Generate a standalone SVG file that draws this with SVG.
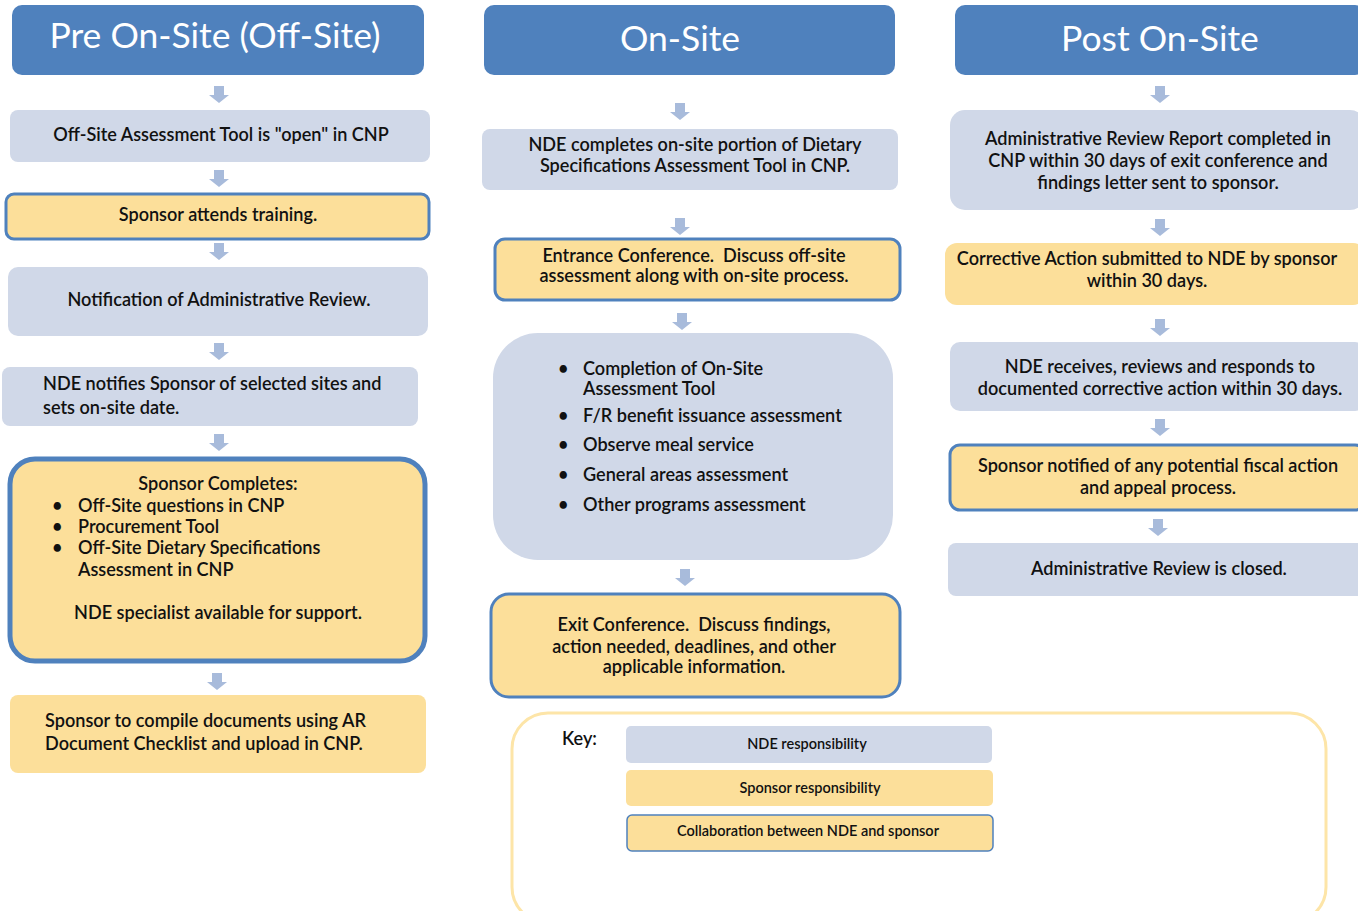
<svg xmlns="http://www.w3.org/2000/svg" width="1358" height="911" viewBox="0 0 1358 911">
<style>
.hdr{fill:#4f81bd}
.nde{fill:#d0d8e8}
.sp{fill:#fcdf9a}
.col{fill:#fcdf9a;stroke:#4f81bd;stroke-width:3}
.ht{font-family:Lato,"Liberation Sans",sans-serif;font-size:35.5px;fill:#fff;text-anchor:middle}
.t{font-family:Lato,"Liberation Sans",sans-serif;font-size:18.1px;font-weight:600;fill:#111;white-space:pre}
.c{text-anchor:middle}
.k{font-family:Lato,"Liberation Sans",sans-serif;font-size:14.5px;font-weight:600;fill:#111;text-anchor:middle}
.ar{fill:#a8bbdb}
</style>
<defs>
<path id="arr" d="M-5,-17 H5 V-8 H10 L0,0 L-10,-8 H-5 Z"/>
</defs>
<rect width="1358" height="911" fill="#fff"/>

<g id="connectors" class="ar">
<use href="#arr" x="219" y="103"/>
<use href="#arr" x="219" y="187"/>
<use href="#arr" x="219" y="260"/>
<use href="#arr" x="219" y="360"/>
<use href="#arr" x="219" y="451"/>
<use href="#arr" x="217" y="690"/>
<use href="#arr" x="680" y="120"/>
<use href="#arr" x="680" y="235"/>
<use href="#arr" x="682" y="330"/>
<use href="#arr" x="685" y="586"/>
<use href="#arr" x="1160" y="103"/>
<use href="#arr" x="1160" y="236"/>
<use href="#arr" x="1160" y="336"/>
<use href="#arr" x="1160" y="436"/>
<use href="#arr" x="1158" y="536"/>
</g>

<g id="h1"><rect class="hdr" x="12" y="5" width="412" height="70" rx="10"/><text class="ht" x="215" y="48">Pre On-Site (Off-Site)</text></g>
<g id="h2"><rect class="hdr" x="484" y="5" width="411" height="70" rx="10"/><text class="ht" x="680" y="51">On-Site</text></g>
<g id="h3"><rect class="hdr" x="955" y="5" width="410" height="70" rx="10"/><text class="ht" x="1160" y="51">Post On-Site</text></g>

<g id="a1"><rect class="nde" x="10" y="110" width="420" height="52" rx="8"/><text class="t c" x="221" y="141">Off-Site Assessment Tool is "open" in CNP</text></g>
<g id="a2"><rect class="col" x="6" y="194" width="423" height="45" rx="8"/><text class="t c" x="218" y="221">Sponsor attends training.</text></g>
<g id="a3"><rect class="nde" x="8" y="267" width="420" height="69" rx="10"/><text class="t c" x="219" y="306">Notification of Administrative Review.</text></g>
<g id="a4"><rect class="nde" x="2" y="367" width="416" height="59" rx="8"/><text class="t" x="43" y="390">NDE notifies Sponsor of selected sites and</text><text class="t" x="43" y="414">sets on-site date.</text></g>
<g id="a5"><rect x="10" y="459" width="415" height="202" rx="25" fill="#fcdf9a" stroke="#4f81bd" stroke-width="5"/>
<text class="t c" x="218" y="490">Sponsor Completes:</text>
<text class="t" x="52" y="512">•</text><text class="t" x="78" y="512">Off-Site questions in CNP</text>
<text class="t" x="52" y="533">•</text><text class="t" x="78" y="533">Procurement Tool</text>
<text class="t" x="52" y="554">•</text><text class="t" x="78" y="554">Off-Site Dietary Specifications</text>
<text class="t" x="78" y="576">Assessment in CNP</text>
<text class="t c" x="218" y="619">NDE specialist available for support.</text></g>
<g id="a6"><rect class="sp" x="10" y="695" width="416" height="78" rx="8"/><text class="t" x="45" y="727">Sponsor to compile documents using AR</text><text class="t" x="45" y="750">Document Checklist and upload in CNP.</text></g>

<g id="b1"><rect class="nde" x="482" y="129" width="416" height="61" rx="8"/><text class="t c" x="695" y="151">NDE completes on-site portion of Dietary</text><text class="t c" x="695" y="172">Specifications Assessment Tool in CNP.</text></g>
<g id="b2"><rect class="col" x="495" y="239" width="405" height="61" rx="10"/><text class="t c" x="694" y="262">Entrance Conference.  Discuss off-site</text><text class="t c" x="694" y="282">assessment along with on-site process.</text></g>
<g id="b3"><rect class="nde" x="493" y="333" width="400" height="227" rx="45"/>
<text class="t" x="558" y="375">•</text><text class="t" x="583" y="375">Completion of On-Site</text>
<text class="t" x="583" y="395">Assessment Tool</text>
<text class="t" x="558" y="422">•</text><text class="t" x="583" y="422">F/R benefit issuance assessment</text>
<text class="t" x="558" y="451">•</text><text class="t" x="583" y="451">Observe meal service</text>
<text class="t" x="558" y="481">•</text><text class="t" x="583" y="481">General areas assessment</text>
<text class="t" x="558" y="511">•</text><text class="t" x="583" y="511">Other programs assessment</text></g>
<g id="b4"><rect class="col" x="491" y="594" width="409" height="103" rx="18"/><text class="t c" x="694" y="631">Exit Conference.  Discuss findings,</text><text class="t c" x="694" y="653">action needed, deadlines, and other</text><text class="t c" x="694" y="673">applicable information.</text></g>

<g id="c1"><rect class="nde" x="950" y="110" width="415" height="100" rx="15"/><text class="t c" x="1158" y="145">Administrative Review Report completed in</text><text class="t c" x="1158" y="167">CNP within 30 days of exit conference and</text><text class="t c" x="1158" y="189">findings letter sent to sponsor.</text></g>
<g id="c2"><rect class="sp" x="945" y="243" width="420" height="62" rx="12"/><text class="t c" x="1147" y="265">Corrective Action submitted to NDE by sponsor</text><text class="t c" x="1147" y="287">within 30 days.</text></g>
<g id="c3"><rect class="nde" x="950" y="342" width="415" height="69" rx="10"/><text class="t c" x="1160" y="373">NDE receives, reviews and responds to</text><text class="t c" x="1160" y="395">documented corrective action within 30 days.</text></g>
<g id="c4"><rect class="col" x="950" y="445" width="415" height="65" rx="10"/><text class="t c" x="1158" y="472">Sponsor notified of any potential fiscal action</text><text class="t c" x="1158" y="494">and appeal process.</text></g>
<g id="c5"><rect class="nde" x="948" y="543" width="417" height="53" rx="8"/><text class="t c" x="1159" y="575">Administrative Review is closed.</text></g>

<g id="key">
<rect x="512" y="713" width="814" height="210" rx="36" fill="#fff" stroke="#fde5a8" stroke-width="3"/>
<text class="t" x="562" y="745">Key:</text>
<rect class="nde" x="626" y="726" width="366" height="37" rx="5"/><text class="k" x="807" y="749">NDE responsibility</text>
<rect class="sp" x="626" y="770" width="367" height="36" rx="5"/><text class="k" x="810" y="793">Sponsor responsibility</text>
<rect x="627" y="815" width="366" height="36" rx="5" fill="#fcdf9a" stroke="#4f81bd" stroke-width="1.5"/><text class="k" x="808" y="836">Collaboration between NDE and sponsor</text>
</g>
</svg>
